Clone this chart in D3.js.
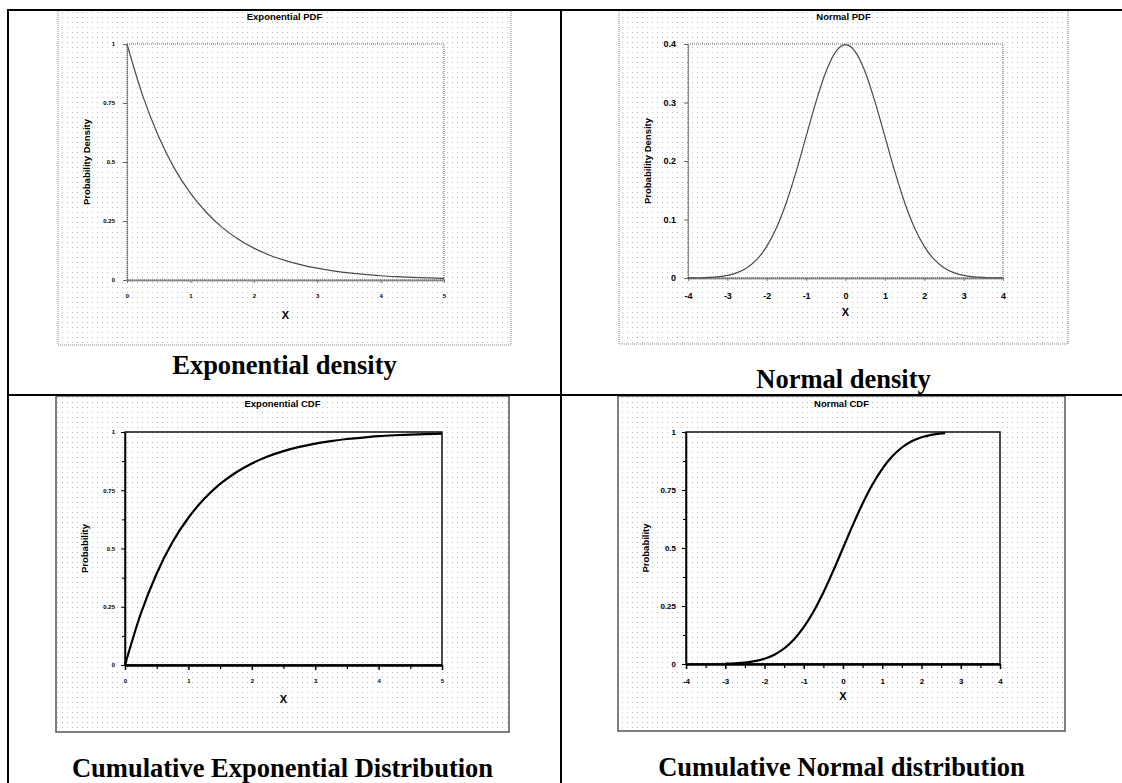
<!DOCTYPE html>
<html>
<head>
<meta charset="utf-8">
<script src="https://cdn.jsdelivr.net/npm/d3@7"></script>
<style>
  html, body { margin: 0; padding: 0; background: #fff; }
  svg { display: block; }
</style>
</head>
<body>
<svg id="chart" width="1122" height="783"></svg>
<script>
// ---- data: sampled curve values ----
const expX = [0, 0.25, 0.5, 0.75, 1, 1.25, 1.5, 1.75, 2, 2.25, 2.5, 2.75, 3, 3.25, 3.5, 3.75, 4, 4.25, 4.5, 4.75, 5];
const expPdf = [1, 0.779, 0.607, 0.472, 0.368, 0.287, 0.223, 0.174, 0.135, 0.105, 0.082, 0.064, 0.050, 0.039, 0.030, 0.024, 0.018, 0.014, 0.011, 0.009, 0.007];
const expCdf = [0, 0.221, 0.393, 0.528, 0.632, 0.713, 0.777, 0.826, 0.865, 0.895, 0.918, 0.936, 0.950, 0.961, 0.970, 0.976, 0.982, 0.986, 0.989, 0.991, 0.993];

const normX = [-4, -3.75, -3.5, -3.25, -3, -2.75, -2.5, -2.25, -2, -1.75, -1.5, -1.25, -1, -0.75, -0.5, -0.25, 0,
               0.25, 0.5, 0.75, 1, 1.25, 1.5, 1.75, 2, 2.25, 2.5, 2.75, 3, 3.25, 3.5, 3.75, 4];
const normPdf = [0.0001, 0.0004, 0.0009, 0.0020, 0.0044, 0.0091, 0.0175, 0.0317, 0.0540, 0.0863, 0.1295, 0.1826, 0.2420, 0.3011, 0.3521, 0.3867, 0.3989,
                 0.3867, 0.3521, 0.3011, 0.2420, 0.1826, 0.1295, 0.0863, 0.0540, 0.0317, 0.0175, 0.0091, 0.0044, 0.0020, 0.0009, 0.0004, 0.0001];

const normCdfX = [-3, -2.75, -2.5, -2.25, -2, -1.75, -1.5, -1.25, -1, -0.75, -0.5, -0.25, 0,
                  0.25, 0.5, 0.75, 1, 1.25, 1.5, 1.75, 2, 2.25, 2.5, 2.6];
const normCdf = [0.0013, 0.0030, 0.0062, 0.0122, 0.0228, 0.0401, 0.0668, 0.1056, 0.1587, 0.2266, 0.3085, 0.4013, 0.5,
                 0.5987, 0.6915, 0.7734, 0.8413, 0.8944, 0.9332, 0.9599, 0.9772, 0.9878, 0.9938, 0.9953];

// ---- tick values and labels ----
const expXTicks = [0, 1, 2, 3, 4, 5];
const expXLabels = ["0", "1", "2", "3", "4", "5"];
const normXTicks = [-4, -3, -2, -1, 0, 1, 2, 3, 4];
const normXLabels = ["-4", "-3", "-2", "-1", "0", "1", "2", "3", "4"];
const probYTicks = [0, 0.25, 0.5, 0.75, 1];
const probYLabels = ["0", "0.25", "0.5", "0.75", "1"];
const densYTicks = [0, 0.1, 0.2, 0.3, 0.4];
const densYLabels = ["0", "0.1", "0.2", "0.3", "0.4"];

// ---- text ----
const titles = ["Exponential PDF", "Normal PDF", "Exponential CDF", "Normal CDF"];
const captions = ["Exponential density", "Normal density", "Cumulative Exponential Distribution", "Cumulative Normal distribution"];
const yTitles = ["Probability Density", "Probability Density", "Probability", "Probability"];

// ---- layout of the four cells ----
const layout = [
  { frame: [58, 10, 511, 345], plot: [127, 44, 444, 280], tickFont: 6, captionY: 374, titleY: 20, xLabY: 298, xTitleY: 319, solid: false },
  { frame: [619, 10, 1068, 344], plot: [688, 44, 1003, 278], tickFont: 9, captionY: 388, titleY: 20, xLabY: 299, xTitleY: 316, solid: false },
  { frame: [56, 396, 509, 732], plot: [125, 432, 442, 665], tickFont: 6, captionY: 777, titleY: 407, xLabY: 683, xTitleY: 703, solid: true },
  { frame: [618, 396, 1065, 731], plot: [686, 432, 1000, 664], tickFont: 8, captionY: 776, titleY: 407, xLabY: 684, xTitleY: 700, solid: true }
];

const series = [
  { xs: expX, ys: expPdf, xDomain: [0, 5], yDomain: [0, 1], xTicks: expXTicks, xLabels: expXLabels, yTicks: probYTicks, yLabels: probYLabels, xMinor: [], yMinor: [] },
  { xs: normX, ys: normPdf, xDomain: [-4, 4], yDomain: [0, 0.4], xTicks: normXTicks, xLabels: normXLabels, yTicks: densYTicks, yLabels: densYLabels, xMinor: [], yMinor: [] },
  { xs: expX, ys: expCdf, xDomain: [0, 5], yDomain: [0, 1], xTicks: expXTicks, xLabels: expXLabels, yTicks: probYTicks, yLabels: probYLabels,
    xMinor: [0.5, 1.5, 2.5, 3.5, 4.5], yMinor: [0.125, 0.375, 0.625, 0.875] },
  { xs: normCdfX, ys: normCdf, xDomain: [-4, 4], yDomain: [0, 1], xTicks: normXTicks, xLabels: normXLabels, yTicks: probYTicks, yLabels: probYLabels,
    xMinor: [-3.5, -2.5, -1.5, -0.5, 0.5, 1.5, 2.5, 3.5], yMinor: [0.125, 0.375, 0.625, 0.875] }
];

const SANS = "'Liberation Sans', Arial, sans-serif";
const SERIF = "'Liberation Serif', 'Times New Roman', serif";

const svg = d3.select("#chart");

// halftone screen texture used inside each graph panel
const defs = svg.append("defs");
const pat = defs.append("pattern")
  .attr("id", "screen")
  .attr("width", 5).attr("height", 5)
  .attr("patternUnits", "userSpaceOnUse");
pat.append("rect").attr("x", 2).attr("y", 2).attr("width", 1).attr("height", 1).attr("fill", "#bcbcbc");

layout.forEach((L, i) => {
  const S = series[i];
  const g = svg.append("g");
  const [fx0, fy0, fx1, fy1] = L.frame;
  const [px0, py0, px1, py1] = L.plot;

  // panel background and frame
  g.append("rect")
    .attr("x", fx0).attr("y", fy0).attr("width", fx1 - fx0).attr("height", fy1 - fy0)
    .attr("fill", "url(#screen)")
    .attr("stroke", L.solid ? "#555" : "#888")
    .attr("stroke-width", L.solid ? 1.5 : 1)
    .attr("stroke-dasharray", L.solid ? null : "1,1");

  const x = d3.scaleLinear().domain(S.xDomain).range([px0, px1]);
  const y = d3.scaleLinear().domain(S.yDomain).range([py1, py0]);

  // plot box
  g.append("rect")
    .attr("x", px0).attr("y", py0).attr("width", px1 - px0).attr("height", py1 - py0)
    .attr("fill", "none")
    .attr("stroke", L.solid ? "#111" : "#666")
    .attr("stroke-width", L.solid ? 1.5 : 1)
    .attr("stroke-dasharray", L.solid ? null : "1,1");

  // y axis
  const yAxis = d3.axisLeft(y)
    .tickValues(S.yTicks)
    .tickFormat((d, k) => S.yLabels[k])
    .tickSize(4).tickSizeOuter(0).tickPadding(L.solid ? 6 : 8);
  const ya = g.append("g").attr("transform", `translate(${px0},0)`).call(yAxis);
  ya.select(".domain").attr("stroke", L.solid ? "#000" : "#444")
    .attr("stroke-width", L.solid ? 1.5 : 1.2)
    .attr("stroke-dasharray", L.solid ? null : "1,1");
  ya.selectAll(".tick line").attr("stroke", L.solid ? "#000" : "#666").attr("stroke-width", 1);
  ya.selectAll(".tick text")
    .attr("font-family", SANS).attr("font-weight", "bold")
    .attr("font-size", L.tickFont).attr("fill", "#000");

  // minor y ticks
  if (S.yMinor.length) {
    g.append("g").attr("transform", `translate(${px0},0)`)
      .call(d3.axisLeft(y).tickValues(S.yMinor).tickFormat("").tickSize(3).tickSizeOuter(0))
      .call(a => a.select(".domain").remove())
      .selectAll(".tick line").attr("stroke", "#000");
  }

  // x axis
  const xAxis = d3.axisBottom(x)
    .tickValues(S.xTicks)
    .tickFormat((d, k) => S.xLabels[k])
    .tickSize(L.solid ? 5 : 3).tickSizeOuter(0).tickPadding(L.solid ? 6 : 8);
  const xa = g.append("g").attr("transform", `translate(0,${py1})`).call(xAxis);
  xa.select(".domain").attr("stroke", L.solid ? "#000" : "#333")
    .attr("stroke-width", L.solid ? 2.5 : 2)
    .attr("stroke-dasharray", L.solid ? null : "1,1");
  xa.selectAll(".tick line").attr("stroke", L.solid ? "#000" : "#777").attr("stroke-width", L.solid ? 1.5 : 1);
  xa.selectAll(".tick text")
    .attr("font-family", SANS).attr("font-weight", "bold")
    .attr("font-size", L.tickFont).attr("fill", "#000")
    .attr("y", null).attr("dy", null)
    .attr("transform", `translate(0,${L.xLabY - py1})`);

  if (S.xMinor.length) {
    g.append("g").attr("transform", `translate(0,${py1})`)
      .call(d3.axisBottom(x).tickValues(S.xMinor).tickFormat("").tickSize(4).tickSizeOuter(0))
      .call(a => a.select(".domain").remove())
      .selectAll(".tick line").attr("stroke", "#000").attr("stroke-width", 1.2);
  }

  // curve
  const pts = S.xs.map((v, k) => [v, S.ys[k]]);
  const line = d3.line().x(d => x(d[0])).y(d => y(d[1])).curve(d3.curveMonotoneX);
  g.append("path")
    .datum(pts)
    .attr("d", line)
    .attr("fill", "none")
    .attr("stroke", L.solid ? "#000" : "#4a4a4a")
    .attr("stroke-width", L.solid ? 2.2 : 1.2);

  // graph title
  g.append("text")
    .attr("x", (fx0 + fx1) / 2).attr("y", L.titleY)
    .attr("text-anchor", "middle")
    .attr("font-family", SANS).attr("font-weight", "bold").attr("font-size", 9.5)
    .text(titles[i]);

  // axis titles
  g.append("text")
    .attr("x", (px0 + px1) / 2).attr("y", L.xTitleY)
    .attr("text-anchor", "middle")
    .attr("font-family", SANS).attr("font-weight", "bold").attr("font-size", 11)
    .text("X");

  const yMid = (py0 + py1) / 2;
  const yx = px0 - 37;
  g.append("text")
    .attr("transform", `translate(${yx},${yMid}) rotate(-90)`)
    .attr("text-anchor", "middle")
    .attr("font-family", SANS).attr("font-weight", "bold").attr("font-size", 9.5)
    .text(yTitles[i]);

  // cell caption
  svg.append("text")
    .attr("x", (fx0 + fx1) / 2).attr("y", L.captionY)
    .attr("text-anchor", "middle")
    .attr("font-family", SERIF).attr("font-weight", "bold").attr("font-size", 26.5)
    .attr("fill", "#000")
    .text(captions[i]);
});

// table rules
const rules = svg.append("g").attr("stroke", "#000").attr("stroke-width", 2);
rules.append("line").attr("x1", 7).attr("y1", 10).attr("x2", 1122).attr("y2", 10);
rules.append("line").attr("x1", 8).attr("y1", 9).attr("x2", 8).attr("y2", 783);
rules.append("line").attr("x1", 561).attr("y1", 9).attr("x2", 561).attr("y2", 783);
rules.append("line").attr("x1", 7).attr("y1", 395).attr("x2", 1122).attr("y2", 395);
</script>
</body>
</html>
